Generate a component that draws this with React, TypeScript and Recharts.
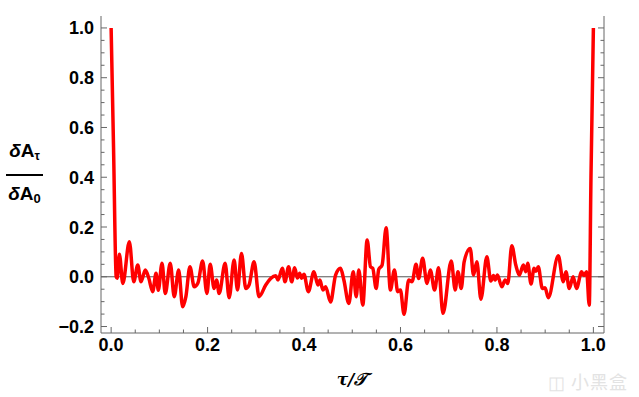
import { LineChart, Line, XAxis, YAxis, ReferenceLine } from "recharts";

// τ/𝒯 samples and δA_τ/δA_0 values
const TAU = [
  0.0, 0.005, 0.0105, 0.0125, 0.0172, 0.0242, 0.0378, 0.0469, 0.0552, 0.062,
  0.0709, 0.078, 0.0862, 0.0931, 0.0978, 0.1055, 0.1123, 0.1226, 0.1309, 0.14,
  0.1483, 0.155, 0.1634, 0.1723, 0.18, 0.1897, 0.1986, 0.2054, 0.2136, 0.2186,
  0.224, 0.2364, 0.2447, 0.255, 0.262, 0.2703, 0.2792, 0.286, 0.2964, 0.3067,
  0.3206, 0.3309, 0.3413, 0.346, 0.3551, 0.3605, 0.368, 0.3744, 0.3806, 0.3861,
  0.3909, 0.395, 0.3998, 0.4089, 0.4205, 0.4288, 0.4329, 0.4391, 0.4447, 0.455,
  0.4654, 0.4757, 0.4826, 0.4929, 0.502, 0.5082, 0.5136, 0.5218, 0.5309, 0.5378,
  0.5425, 0.5495, 0.5549, 0.5619, 0.5702, 0.5791, 0.5874, 0.5942, 0.5998, 0.6074,
  0.617, 0.624, 0.6323, 0.6376, 0.6459, 0.655, 0.6618, 0.6707, 0.679, 0.6881,
  0.7053, 0.7135, 0.7191, 0.726, 0.732, 0.7446, 0.7514, 0.7584, 0.7667, 0.7791,
  0.7874, 0.7928, 0.7963, 0.801, 0.8101, 0.817, 0.8225, 0.8308, 0.8391, 0.8465,
  0.8548, 0.8598, 0.8639, 0.8707, 0.877, 0.881, 0.8858, 0.8941, 0.8997, 0.9065,
  0.9272, 0.9376, 0.9431, 0.95, 0.958, 0.965, 0.9756, 0.98, 0.986, 0.9914,
  0.995, 1.0,
];

const DELTA_A = [
  1.0, 0.52, 0.0, -0.006, 0.09, -0.027, 0.141, -0.02, 0.047, -0.02,
  0.027, -0.005, -0.06, 0.014, -0.054, 0.054, -0.067, 0.054, -0.08, 0.027,
  -0.121, -0.08, 0.04, -0.04, -0.025, 0.063, -0.067, 0.05, -0.047, -0.013,
  -0.067, 0.054, -0.084, 0.067, -0.053, 0.094, -0.047, -0.033, 0.06, -0.08,
  -0.033, -0.007, 0.004, -0.013, 0.034, -0.02, 0.04, -0.02, 0.036, -0.005,
  0.014, -0.006, 0.01, -0.06, 0.02, -0.033, -0.013, -0.053, -0.04, -0.101,
  0.007, 0.034, -0.013, -0.107, 0.02, -0.08, 0.027, -0.114, 0.148, 0.04,
  0.034, -0.047, 0.03, 0.047, 0.197, -0.053, 0.027, -0.06, -0.053, -0.151,
  -0.013, -0.02, 0.05, -0.007, 0.074, -0.027, 0.027, -0.053, 0.036, -0.147,
  0.063, -0.053, 0.02, -0.047, 0.06, 0.114, 0.007, 0.06, -0.09, 0.08,
  -0.017, 0.005, -0.013, 0.007, -0.04, -0.013, -0.027, 0.125, 0.047, 0.007,
  0.047, 0.02, 0.054, -0.029, 0.034, 0.022, 0.04, -0.047, -0.044, -0.084,
  0.084, -0.02, 0.02, -0.047, 0.0, -0.047, 0.02, 0.005, 0.02, -0.114,
  0.4, 1.0,
];

const X_TICKS = [
  0, 0.05, 0.1, 0.15, 0.2, 0.25, 0.3, 0.35, 0.4, 0.45, 0.5,
  0.55, 0.6, 0.65, 0.7, 0.75, 0.8, 0.85, 0.9, 0.95, 1.0,
];
const Y_TICKS = [
  -0.2, -0.15, -0.1, -0.05, 0, 0.05, 0.1, 0.15, 0.2, 0.25, 0.3, 0.35, 0.4,
  0.45, 0.5, 0.55, 0.6, 0.65, 0.7, 0.75, 0.8, 0.85, 0.9, 0.95, 1.0,
];

const data = TAU.map((t, i) => ({ t, a: DELTA_A[i] }));

const FRAME = "#666666";
const FONT = "'Liberation Sans', Arial, sans-serif";

const isMajor = (v: number) => Math.abs(v * 5 - Math.round(v * 5)) < 1e-6;
const fmt = (v: number) => (v < -1e-9 ? "\u2212" : "") + Math.abs(v).toFixed(1);

function FrameTick(props: any) {
  const { x, y, payload, side } = props;
  const v = payload.value;
  const major = isMajor(v);
  const len = major ? 6 : 3.5;
  const label = {
    fontFamily: FONT,
    fontWeight: 700,
    fontSize: 18,
    fill: "#000",
  };
  if (side === "bottom") {
    return (
      <g>
        <line x1={x} x2={x} y1={y} y2={y - len} stroke={FRAME} />
        {major && (
          <text x={x} y={y + 17.5} textAnchor="middle" {...label}>
            {fmt(v)}
          </text>
        )}
      </g>
    );
  }
  if (side === "top") {
    return <line x1={x} x2={x} y1={y} y2={y + len} stroke={FRAME} />;
  }
  if (side === "left") {
    return (
      <g>
        <line x1={x} x2={x + len} y1={y} y2={y} stroke={FRAME} />
        {major && (
          <text x={x - 7} y={y + 6.5} textAnchor="end" {...label}>
            {fmt(v)}
          </text>
        )}
      </g>
    );
  }
  return <line x1={x} x2={x - len} y1={y} y2={y} stroke={FRAME} />;
}

export default function App() {
  return (
    <div style={{ position: "absolute", left: 0, top: 0, width: 639, height: 397, background: "#fff" }}>
      <LineChart
        width={639}
        height={397}
        data={data}
        margin={{ top: 16, right: 0, bottom: 0, left: 0 }}
      >
        <XAxis
          xAxisId="bottom"
          dataKey="t"
          type="number"
          domain={[-0.021, 1.022]}
          allowDataOverflow
          ticks={X_TICKS}
          interval={0}
          height={64}
          tickSize={0}
          tickMargin={0}
          tickLine={false}
          axisLine={{ stroke: FRAME }}
          tick={<FrameTick side="bottom" />}
        />
        <XAxis
          xAxisId="top"
          orientation="top"
          dataKey="t"
          type="number"
          domain={[-0.021, 1.022]}
          allowDataOverflow
          ticks={X_TICKS}
          interval={0}
          height={0}
          tickSize={0}
          tickMargin={0}
          tickLine={false}
          axisLine={{ stroke: FRAME }}
          tick={<FrameTick side="top" />}
        />
        <YAxis
          yAxisId="left"
          type="number"
          domain={[-0.226, 1.048]}
          allowDataOverflow
          ticks={Y_TICKS}
          interval={0}
          width={101}
          tickSize={0}
          tickMargin={0}
          tickLine={false}
          axisLine={{ stroke: FRAME }}
          tick={<FrameTick side="left" />}
        />
        <YAxis
          yAxisId="right"
          orientation="right"
          type="number"
          domain={[-0.226, 1.048]}
          allowDataOverflow
          ticks={Y_TICKS}
          interval={0}
          width={35}
          tickSize={0}
          tickMargin={0}
          tickLine={false}
          axisLine={{ stroke: FRAME }}
          tick={<FrameTick side="right" />}
        />
        <ReferenceLine xAxisId="bottom" yAxisId="left" y={0} stroke="#555" strokeWidth={1} />
        <Line
          xAxisId="top"
          yAxisId="right"
          dataKey="a"
          stroke="none"
          dot={false}
          activeDot={false}
          isAnimationActive={false}
        />
        <Line
          xAxisId="bottom"
          yAxisId="left"
          type="monotone"
          dataKey="a"
          stroke="#ff0000"
          strokeWidth={3.5}
          strokeLinejoin="round"
          dot={false}
          activeDot={false}
          isAnimationActive={false}
        />
      </LineChart>

      {/* y label: δA_τ / δA_0 */}
      <div
        style={{
          position: "absolute",
          left: 6,
          top: 141,
          width: 37,
          fontFamily: FONT,
          fontWeight: 700,
          fontSize: 19,
          color: "#000",
          textAlign: "center",
          lineHeight: "20px",
        }}
      >
        <div>
          <i>δ</i>A<sub style={{ fontSize: 12, verticalAlign: "-3px" }}>τ</sub>
        </div>
        <div style={{ borderTop: "2.5px solid #000", margin: "8px 0 8px 0" }} />
        <div>
          <i>δ</i>A<sub style={{ fontSize: 13, verticalAlign: "-3px" }}>0</sub>
        </div>
      </div>

      {/* x label */}
      <div
        style={{
          position: "absolute",
          left: 302,
          width: 100,
          top: 369,
          textAlign: "center",
          fontFamily: "'DejaVu Serif', serif",
          fontStyle: "italic",
          fontWeight: 700,
          fontSize: 17,
          color: "#000",
        }}
      >
        τ/𝒯
      </div>

      {/* watermark */}
      <div
        style={{
          position: "absolute",
          left: 548,
          top: 368,
          fontFamily: "'Noto Sans CJK SC', sans-serif",
          fontSize: 18,
          color: "#e3e3e3",
          letterSpacing: 1,
        }}
      >
        ◫ 小黑盒
      </div>
    </div>
  );
}
